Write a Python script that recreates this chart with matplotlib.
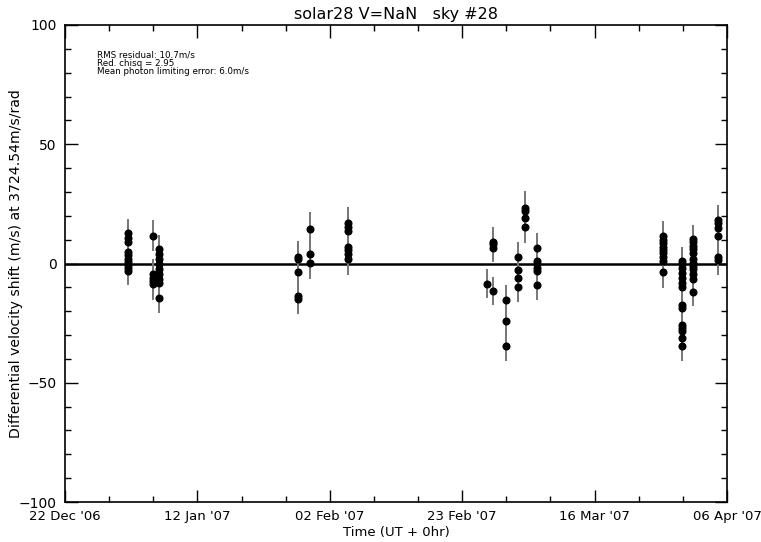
import datetime as dt
import numpy as np
import matplotlib
matplotlib.use("Agg")
import matplotlib.pyplot as plt
import matplotlib.dates as mdates
from matplotlib.ticker import MultipleLocator, FixedLocator

# Observation epochs (days after 22 Dec 2006) and the velocity shifts measured at each
epoch = dt.datetime(2006, 12, 22)
group_days = [9.95, 13.9, 14.95, 36.9, 38.9, 44.9, 66.9, 67.9, 69.95,
              71.9, 72.9, 74.8, 94.8, 97.8, 99.65, 103.6]
group_rv = [
    [12.6, 10.5, 8.9, 5.0, 3.5, 2.0, 0.5, -0.8, -2.0, -3.0],
    [11.7, -4.6, -6.0, -7.4, -8.8],
    [5.9, 3.8, 1.7, -0.4, -2.5, -4.6, -6.7, -8.1, -14.4],
    [2.8, 2.0, -3.6, -13.7, -14.7],
    [14.5, 4.1, 0.3],
    [17.0, 15.5, 13.5, 7.0, 5.5, 4.0, 1.7],
    [-8.5],
    [9.1, 8.0, 6.6, -11.6],
    [-15.4, -23.9, -34.4],
    [2.6, -2.8, -6.0, -9.8],
    [23.4, 21.9, 19.2, 15.4],
    [6.6, 1.0, -0.4, -1.8, -3.2, -9.2],
    [11.5, 10.0, 8.5, 7.0, 5.7, 4.3, 2.6, 1.0, -3.6],
    [1.0, -0.4, -1.8, -3.9, -6.0, -8.1, -9.8, -17.2, -18.5, -25.6, -27.0, -28.4, -31.2, -34.7],
    [10.3, 9.0, 7.5, 6.0, 4.5, 1.7, 0.3, -1.0, -2.5, -4.6, -6.7, -12.0],
    [18.4, 17.1, 15.0, 11.5, 2.8, 1.4],
]
group_err = [6.0, 6.5, 6.2, 6.5, 7.0, 6.5, 6.0, 6.0, 6.5,
             6.5, 7.0, 6.0, 6.5, 6.0, 6.0, 6.3]

title = "solar28 V=NaN   sky #28"
stats_lines = ["RMS residual: 10.7m/s",
               "Red. chisq = 2.95",
               "Mean photon limiting error: 6.0m/s"]
x_start, x_end = dt.datetime(2006, 12, 22), dt.datetime(2007, 4, 6)

plt.rcParams["font.family"] = ["DejaVu Sans"]
fig = plt.figure(figsize=(7.61, 5.42), dpi=100)
ax = fig.add_axes([65 / 761, 1 - 502 / 542, 662 / 761, 477 / 542])

ax.axhline(0, color="black", lw=1.8, zorder=1)

for d, vals, e in zip(group_days, group_rv, group_err):
    t = epoch + dt.timedelta(days=d)
    xs = [mdates.date2num(t)] * len(vals)
    ax.errorbar(xs, vals, yerr=e, fmt="o", color="black", ms=4.8,
                ecolor="#777777", elinewidth=1.4, capsize=0, zorder=3)

x0, x1 = mdates.date2num(x_start), mdates.date2num(x_end)
ax.set_xlim(x0, x1)
ax.set_ylim(-100, 100)

ax.xaxis.set_major_locator(FixedLocator(np.arange(x0, x1 + 0.5, 21)))
ax.xaxis.set_minor_locator(FixedLocator(np.arange(x0, x1 + 0.5, 7)))
ax.xaxis.set_major_formatter(mdates.DateFormatter("%d %b '%y"))
ax.yaxis.set_major_locator(MultipleLocator(50))
ax.yaxis.set_minor_locator(MultipleLocator(10))

ax.tick_params(which="both", direction="in", top=True, right=True,
               color="black", width=1.0, labelsize=9.5)
ax.tick_params(axis="y", which="major", labelsize=10)
ax.tick_params(which="major", length=9, pad=6)
ax.tick_params(which="minor", length=4.5)
for s in ax.spines.values():
    s.set_linewidth(1.2)

ax.set_xlabel("Time (UT + 0hr)", fontsize=9.5, labelpad=2)
ax.set_ylabel("Differential velocity shift (m/s) at 3724.54m/s/rad",
              fontsize=10.1, va="center")
ax.yaxis.set_label_coords(-49 / 662, 0.5)
ax.set_title(title, fontsize=11.5, pad=4)

ax.text(32 / 662, 1 - 25 / 477, "\n".join(stats_lines), transform=ax.transAxes,
        fontsize=6.3, va="top", ha="left", linespacing=0.95)

fig.savefig("out.png", dpi=100)
